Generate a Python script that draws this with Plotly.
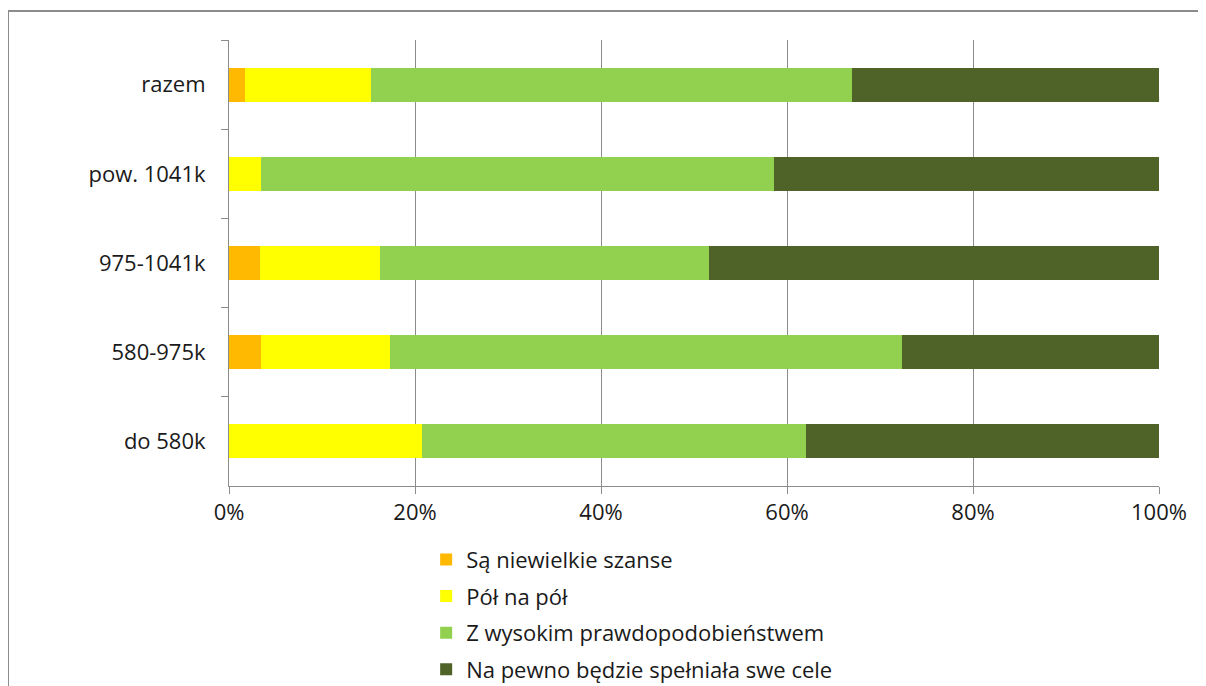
import plotly.graph_objects as go

# Data (shares in %)
categories = ["razem", "pow. 1041k", "975-1041k", "580-975k", "do 580k"]
series_names = [
    "Są niewielkie szanse",
    "Pół na pół",
    "Z wysokim prawdopodobieństwem",
    "Na pewno będzie spełniała swe cele",
]
niewielkie = [1.7, 0.0, 3.3, 3.4, 0.0]
pol_na_pol = [13.6, 3.4, 12.9, 13.9, 20.8]
wysokie = [51.7, 55.2, 35.4, 55.1, 41.2]
na_pewno = [33.0, 41.4, 48.4, 27.6, 38.0]

COLORS = ["#FFB900", "#FFFF00", "#92D050", "#4F6228"]
FONT = "Open Sans, Liberation Sans, sans-serif"

fig = go.Figure()
for name, vals, col in zip(series_names, [niewielkie, pol_na_pol, wysokie, na_pewno], COLORS):
    fig.add_trace(go.Bar(
        y=categories, x=vals, orientation="h",
        name=name, legendgroup=name,
        marker=dict(color=col, line=dict(width=0)),
    ))

# outer chart frame (extends beyond the visible window)
fig.add_shape(type="rect", xref="paper", yref="paper",
              x0=-221 / 930, x1=1.3, y0=-0.6, y1=1 + 29 / 446,
              line=dict(color="#8c8c8c", width=2), layer="below")

fig.update_layout(
    barmode="stack",
    bargap=0.62,
    width=1206, height=686,
    margin=dict(l=221, r=55, t=32, b=208, autoexpand=False),
    paper_bgcolor="white", plot_bgcolor="white",
    font=dict(family=FONT, size=22, color="#1a1a1a"),
    showlegend=True,
    legend=dict(
        x=0.212, y=-0.118, xanchor="left", yanchor="top",
        orientation="v", traceorder="grouped", tracegroupgap=5,
        font=dict(size=22), itemwidth=30,
    ),
    xaxis=dict(
        range=[0, 100], tickvals=[0, 20, 40, 60, 80, 100],
        ticktext=["0%", "20%", "40%", "60%", "80%", "100%"],
        showgrid=True, gridcolor="#8c8c8c", gridwidth=1,
        showline=True, linecolor="#8c8c8c",
        ticks="outside", ticklen=7, tickcolor="#8c8c8c",
        zeroline=False, fixedrange=True,
    ),
    yaxis=dict(
        categoryorder="array", categoryarray=categories,
        autorange="reversed",
        showline=True, linecolor="#8c8c8c",
        ticks="outside", ticklen=7, tickcolor="#8c8c8c",
        tickson="boundaries", ticklabelstandoff=18,
        showgrid=False, fixedrange=True,
    ),
)

fig.write_html("out.html")
